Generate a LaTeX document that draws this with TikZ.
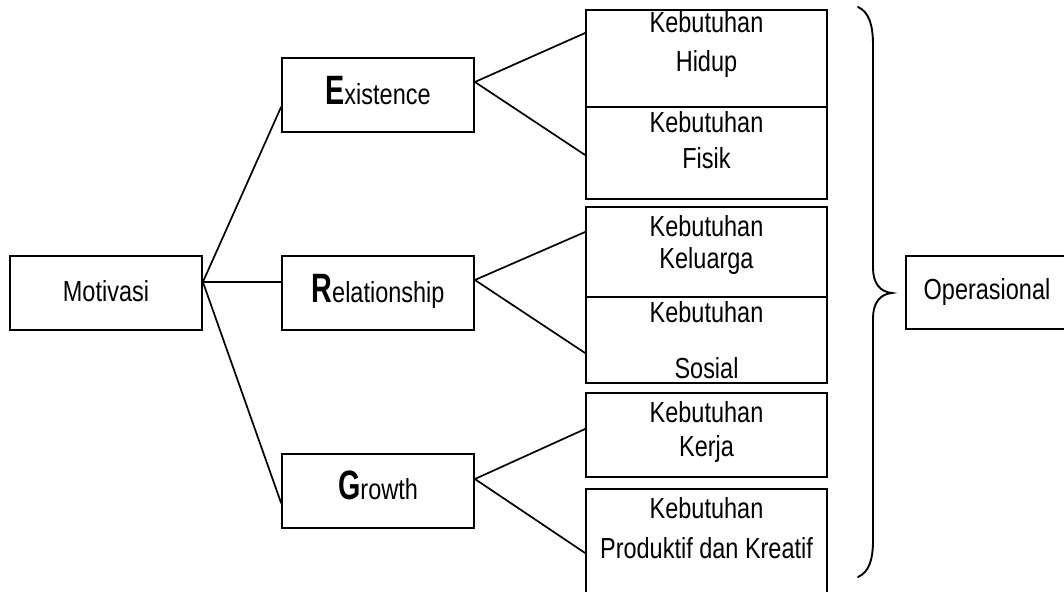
\documentclass[tikz,border=0pt]{standalone}
\usepackage{fontspec}
\setmainfont{Liberation Sans}[FakeStretch=0.81]
\newfontfamily\initfont{Liberation Sans}[FakeStretch=0.70]
\newcommand{\ini}[1]{{\initfont\bfseries\fontsize{41}{44}\selectfont #1}}
\begin{document}
\begin{tikzpicture}[x=1pt,y=-1pt,
  box/.style={draw=black, line width=1.8pt, inner sep=0pt, rectangle},
  kbox/.style={box, minimum width=241pt},
  txt/.style={anchor=base, inner sep=0pt, font=\fontsize{29}{32}\selectfont},
  link/.style={line width=1.7pt, line cap=round}]
\useasboundingbox (0,0) rectangle (1064,591);
\clip (0,0) rectangle (1064,591);

% root
\node[box, minimum width=192pt, minimum height=74pt] (mot) at (106,293) {};
\node[txt] (motT) at (106,301) {Motivasi};

% ERG groups
\node[box, minimum width=192pt, minimum height=74pt] (ex) at (378,95) {};
\node[txt] (exT) at (378,105) {\ini{E}xistence};
\node[box, minimum width=192pt, minimum height=74pt] (rel) at (378,293) {};
\node[txt] (relT) at (378,302) {\ini{R}elationship};
\node[box, minimum width=192pt, minimum height=74pt] (gro) at (378,491) {};
\node[txt] (groT) at (378,499) {\ini{G}rowth};

% needs
\node[kbox, minimum height=97pt] (hid) at (706.5,58.5) {};
\node[txt] (hidA) at (706.5,33) {Kebutuhan};
\node[txt] (hidB) at (706.5,72) {Hidup};
\node[kbox, minimum height=92pt] (fis) at (706.5,153) {};
\node[txt] (fisA) at (706.5,132) {Kebutuhan};
\node[txt] (fisB) at (706.5,168) {Fisik};
\node[kbox, minimum height=90pt] (kel) at (706.5,252) {};
\node[txt] (kelA) at (706.5,236) {Kebutuhan};
\node[txt] (kelB) at (706.5,268) {Keluarga};
\node[kbox, minimum height=86pt] (sos) at (706.5,340) {};
\node[txt] (sosA) at (706.5,322) {Kebutuhan};
\node[txt] (sosB) at (706.5,378) {Sosial};
\node[kbox, minimum height=84pt] (ker) at (706.5,435) {};
\node[txt] (kerA) at (706.5,422) {Kebutuhan};
\node[txt] (kerB) at (706.5,456) {Kerja};
\node[kbox, minimum height=106pt] (pro) at (706.5,542) {};
\node[txt] (proA) at (706.5,518) {Kebutuhan};
\node[txt] (proB) at (706.5,558) {Produktif dan Kreatif};

% result
\node[box, minimum width=162pt, minimum height=73pt] (ops) at (987,292.5) {};
\node[txt] (opsT) at (987,299) {Operasional};

% connectors
\draw[link] ([yshift=11pt]mot.east) -- ([yshift=-12pt]ex.west);
\draw[link] ([yshift=11pt]mot.east) -- ([yshift=11pt]rel.west);
\draw[link] ([yshift=11pt]mot.east) -- ([yshift=-12pt]gro.west);
\draw[link] ([yshift=13pt]ex.east) -- ([yshift=25.5pt]hid.west);
\draw[link] ([yshift=13pt]ex.east) -- ([yshift=-2pt]fis.west);
\draw[link] ([yshift=13pt]rel.east) -- ([yshift=20pt]kel.west);
\draw[link] ([yshift=13pt]rel.east) -- ([yshift=-13pt]sos.west);
\draw[link] ([yshift=12pt]gro.east) -- ([yshift=6pt]ker.west);
\draw[link] ([yshift=12pt]gro.east) -- ([yshift=-11pt]pro.west);

% brace
\draw[line width=1.9pt, line cap=round]
  (858,7) .. controls (869,12) and (873,25) .. (873,45) -- (873,268)
  .. controls (873,283) and (880,292) .. (892,293)
  .. controls (880,294) and (873,303) .. (873,318) -- (873,540)
  .. controls (873,560) and (869,572) .. (858,577);
\end{tikzpicture}
\end{document}
